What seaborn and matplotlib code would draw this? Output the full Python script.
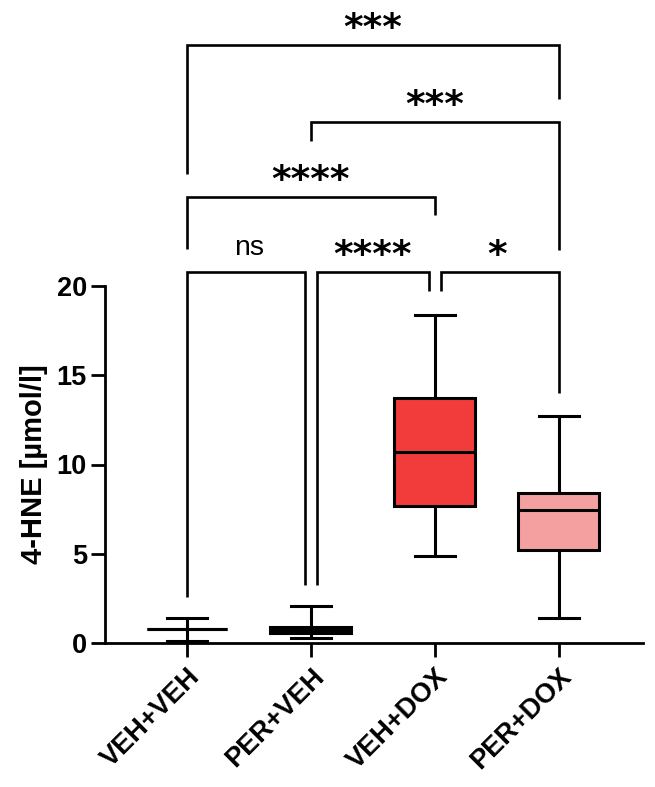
import numpy as np
import pandas as pd
import matplotlib
matplotlib.use("Agg")
import matplotlib.pyplot as plt
import seaborn as sns

# ---- data (five-number summaries: min, Q1, median, Q3, max) ----
groups = ["VEH+VEH", "PER+VEH", "VEH+DOX", "PER+DOX"]
veh_veh = [0.10, 0.78, 0.78, 0.78, 1.40]
per_veh = [0.28, 0.55, 0.75, 0.90, 2.07]
veh_dox = [4.90, 7.70, 10.70, 13.70, 18.40]
per_dox = [1.40, 5.20, 7.45, 8.40, 12.70]
fill_colors = ["#FFFFFF", "#9A9A9A", "#F23C3C", "#F5A0A0"]
y_ticks = [0, 5, 10, 15, 20]
y_label = "4-HNE [µmol/l]"

# significance brackets: (group a, group b, bar height, leg end a, leg end b, label)
brackets = [
    (0, 3, 33.5, 26.3, 30.5, "***"),
    (1, 3, 29.2, 28.1, 22.0, "***"),
    (0, 2, 25.0, 22.1, 24.0, "****"),
    (0, 1, 20.8, 2.6, 3.25, "ns"),
    (1, 2, 20.8, 3.25, 19.7, "****"),
    (2, 3, 20.8, 19.7, 14.0, "*"),
]

df = pd.DataFrame({
    "group": np.repeat(groups, 5),
    "value": np.concatenate([veh_veh, per_veh, veh_dox, per_dox]),
})

plt.rcParams["font.family"] = ["Liberation Sans", "DejaVu Sans"]

fig = plt.figure(figsize=(6.55, 7.87), dpi=100)
ax = fig.add_axes([105 / 655, 144 / 787, (643 - 105) / 655, 633 / 787])

sns.boxplot(data=df, x="group", y="value", hue="group", order=groups,
            hue_order=groups, palette=fill_colors, legend=False,
            width=0.65, whis=(0, 100), linewidth=2.2, linecolor="black",
            saturation=1, fliersize=0, ax=ax)

ax.set_xlim(-0.66, 3.68)
ax.set_ylim(0, 633 / 17.85)

for s in ["top", "right"]:
    ax.spines[s].set_visible(False)
ax.spines["left"].set_bounds(0, 20)
ax.spines["left"].set_linewidth(2)
ax.spines["bottom"].set_linewidth(2)
ax.set_yticks(y_ticks)
ax.set_yticklabels([str(t) for t in y_ticks], fontsize=19.5, fontweight="bold")
ax.tick_params(axis="both", length=10, width=2, direction="out")
ax.tick_params(axis="y", pad=3)
ax.set_xticks(range(len(groups)))
ax.set_xticklabels(groups, fontsize=19.5, fontweight="bold", rotation=45,
                   ha="right", rotation_mode="anchor")
ax.tick_params(axis="x", pad=5)
ax.set_xlabel("")
ax.set_ylabel(y_label, fontsize=21, fontweight="bold")
ax.yaxis.set_label_coords(-0.106, 20 / (633 / 17.85) / 2)

off = 0.05
for a, b, h, ea, eb, lab in brackets:
    xa = a + (off if b - a == 1 and a > 0 else 0)
    xb = b - (off if b - a == 1 and b < 3 else 0)
    ax.plot([xa, xa, xb, xb], [ea, h, h, eb], color="black", lw=1.9,
            solid_capstyle="butt", solid_joinstyle="miter", clip_on=False)
    if lab == "ns":
        ax.text((a + b) / 2, h + 1.35, lab, ha="center", va="center",
                fontsize=20.5)
    else:
        ax.text((a + b) / 2, h + 0.9, lab, ha="center", va="center",
                fontsize=27, fontweight="bold", family=["DejaVu Sans"])

fig.savefig("out.png", dpi=100)
